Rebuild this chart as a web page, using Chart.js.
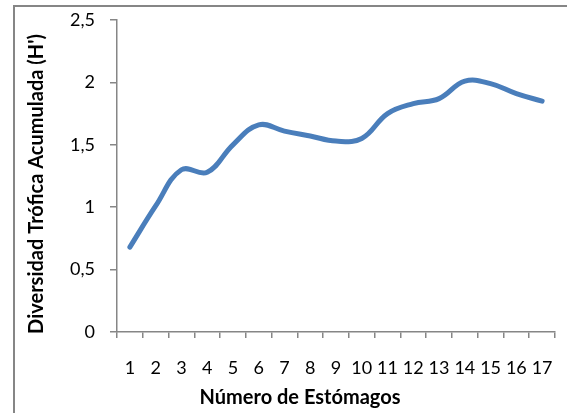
<!DOCTYPE html>
<html>
<head>
<meta charset="utf-8">
<script src="https://cdn.jsdelivr.net/npm/chart.js@4"></script>
<style>
  html, body { margin: 0; padding: 0; background: #fff; }
  #wrap { position: relative; width: 567px; height: 413px; }
  #frame { position: absolute; left: 13px; top: 5px; right: 0; bottom: 0;
           border-left: 2px solid #868686; border-top: 2px solid #868686; }
  canvas { position: absolute; left: 0; top: 0; }
</style>
</head>
<body>
<div id="wrap">
  <div id="frame"></div>
  <canvas id="chart" width="567" height="413"></canvas>
</div>
<script>
const estomagos = ['1','2','3','4','5','6','7','8','9','10','11','12','13','14','15','16','17'];
const diversidad = [0.68, 1.01, 1.30, 1.28, 1.50, 1.66, 1.61, 1.57, 1.53, 1.55, 1.75, 1.83, 1.87, 2.01, 1.99, 1.91, 1.85];
const yTicks = [0, 0.5, 1, 1.5, 2, 2.5];
const xTitle = 'Número de Estómagos';
const yTitle = "Diversidad Trófica Acumulada (H')";

const axisColor = '#868686';
const font = { family: 'Lato', size: 18 };

// axis titles placed like Excel does (centred on the chart, not on the plot)
const axisTitles = {
    id: 'axisTitles',
    afterDraw(chart) {
        const c = chart.ctx;
        c.save();
        c.fillStyle = '#000';
        c.font = 'bold 20px Lato';
        c.textAlign = 'center';
        c.textBaseline = 'middle';
        c.fillText(xTitle, 300, 398);
        c.translate(37, 184);
        c.rotate(-Math.PI / 2);
        c.fillText(yTitle, 0, 0);
        c.restore();
    }
};

const ctx = document.getElementById('chart').getContext('2d');
new Chart(ctx, {
    type: 'line',
    data: {
        labels: estomagos,
        datasets: [{
            data: diversidad,
            borderColor: '#4A7EBB',
            borderWidth: 5,
            borderCapStyle: 'round',
            tension: 0.4,
            pointRadius: 0,
            fill: false
        }]
    },
    options: {
        responsive: false,
        animation: false,
        layout: { padding: { top: 20, right: 12, left: 0, bottom: 0 } },
        plugins: { legend: { display: false }, tooltip: { enabled: false } },
        scales: {
            x: {
                offset: true,
                grid: { offset: true, drawOnChartArea: false, color: axisColor, tickLength: 6, lineWidth: 1.5 },
                border: { color: axisColor, width: 1.5 },
                ticks: { color: '#000', font: font, padding: 19, maxRotation: 0, autoSkip: false },
                afterFit(scale) {
                    scale.height = 81;
                    scale.paddingLeft = 0;
                    scale.paddingRight = 0;
                }
            },
            y: {
                min: 0,
                max: 2.5,
                afterBuildTicks(scale) { scale.ticks = yTicks.map(v => ({ value: v })); },
                grid: { drawOnChartArea: false, color: axisColor, tickLength: 7, lineWidth: 1.5 },
                border: { color: axisColor, width: 1.5 },
                ticks: {
                    color: '#000', font: font, padding: 15,
                    callback: v => String(v).replace('.', ',')
                },
                afterFit(scale) {
                    scale.width = 117;
                    scale.paddingTop = 0;
                    scale.paddingBottom = 0;
                }
            }
        }
    },
    plugins: [axisTitles]
});
</script>
</body>
</html>
